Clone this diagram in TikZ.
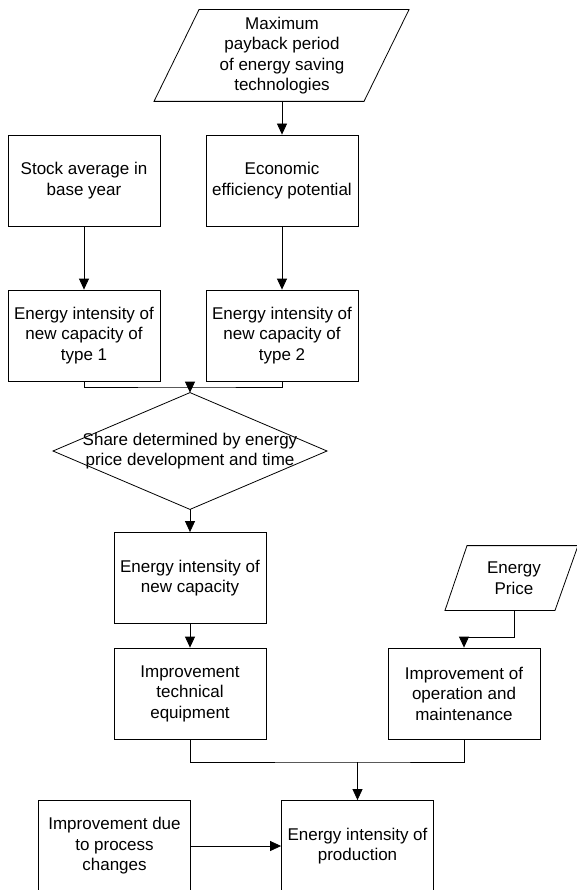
\documentclass[tikz,border=0pt]{standalone}
\usepackage{fontspec}
\setmainfont{Liberation Sans}
\usetikzlibrary{arrows.meta}

\begin{document}
\begin{tikzpicture}[x=1pt, y=-1pt, line width=0.8pt,
	box/.style={draw, minimum width=152pt, minimum height=91pt, align=center, inner sep=2pt, font=\fontsize{17}{20.5}\selectfont},
	txt/.style={align=center, inner sep=0pt, font=\fontsize{17}{20.5}\selectfont},
	arr/.style={-{Triangle[length=11pt,width=10pt]}}]
	\useasboundingbox (0,0) rectangle (576,890);
	
	\node[txt, minimum height=91pt] (maxpay) at (282,55.5) {Maximum\\payback period\\of energy saving\\technologies};
	\draw ([xshift=-83pt]maxpay.north) -- ([xshift=127pt]maxpay.north) -- ([xshift=82pt]maxpay.south) -- ([xshift=-128pt]maxpay.south) -- cycle;
	
	\node[box] (stock) at (84,180.5) {Stock average in\\base year};
	\node[box] (econ) at (282,180.5) {Economic\\efficiency potential};
	\node[box] (type1) at (84,335.5) {Energy intensity of\\new capacity of\\type 1};
	\node[box] (type2) at (282,335.5) {Energy intensity of\\new capacity of\\type 2};
	
	\node[txt, minimum height=116pt] (share) at (190,451) {Share determined by energy\\price development and time};
	\draw (share.north) -- ([xshift=137pt]share.center) -- (share.south) -- ([xshift=-137pt]share.center) -- cycle;
	
	\node[box] (newcap) at (190,578) {Energy intensity of\\new capacity};
	\node[box] (techeq) at (190,693.5) {Improvement\\technical\\equipment};
	\node[txt, minimum height=64pt] (eprice) at (514,578) {Energy\\Price};
	\draw ([xshift=-47pt]eprice.north) -- ([xshift=64pt]eprice.north) -- ([xshift=41pt]eprice.south) -- ([xshift=-69pt]eprice.south) -- cycle;
	\node[box] (ops) at (464,693.5) {Improvement of\\operation and\\maintenance};
	\node[box] (process) at (114.5,846) {Improvement due\\to process\\changes};
	\node[box] (prod) at (357.5,846) {Energy intensity of\\production};
	
	\coordinate (j1) at (190,387);
	\coordinate (j2) at (357.5,762);
	\coordinate (j3) at (464,637);
	
	\draw[arr] (maxpay.south) -- (econ.north);
	\draw[arr] (stock) -- (type1);
	\draw[arr] (econ) -- (type2);
	\draw (type1.south) |- (j1) -| (type2.south);
	\draw[arr] (j1) -- (share.north);
	\draw[arr] (share.south) -- (newcap.north);
	\draw[arr] (newcap) -- (techeq);
	\draw[arr] (eprice.south) |- (j3) -- (ops.north);
	\draw (techeq.south) |- (j2) -| (ops.south);
	\draw[arr] (j2) -- (prod.north);
	\draw[arr] (process) -- (prod);
\end{tikzpicture}
\end{document}
